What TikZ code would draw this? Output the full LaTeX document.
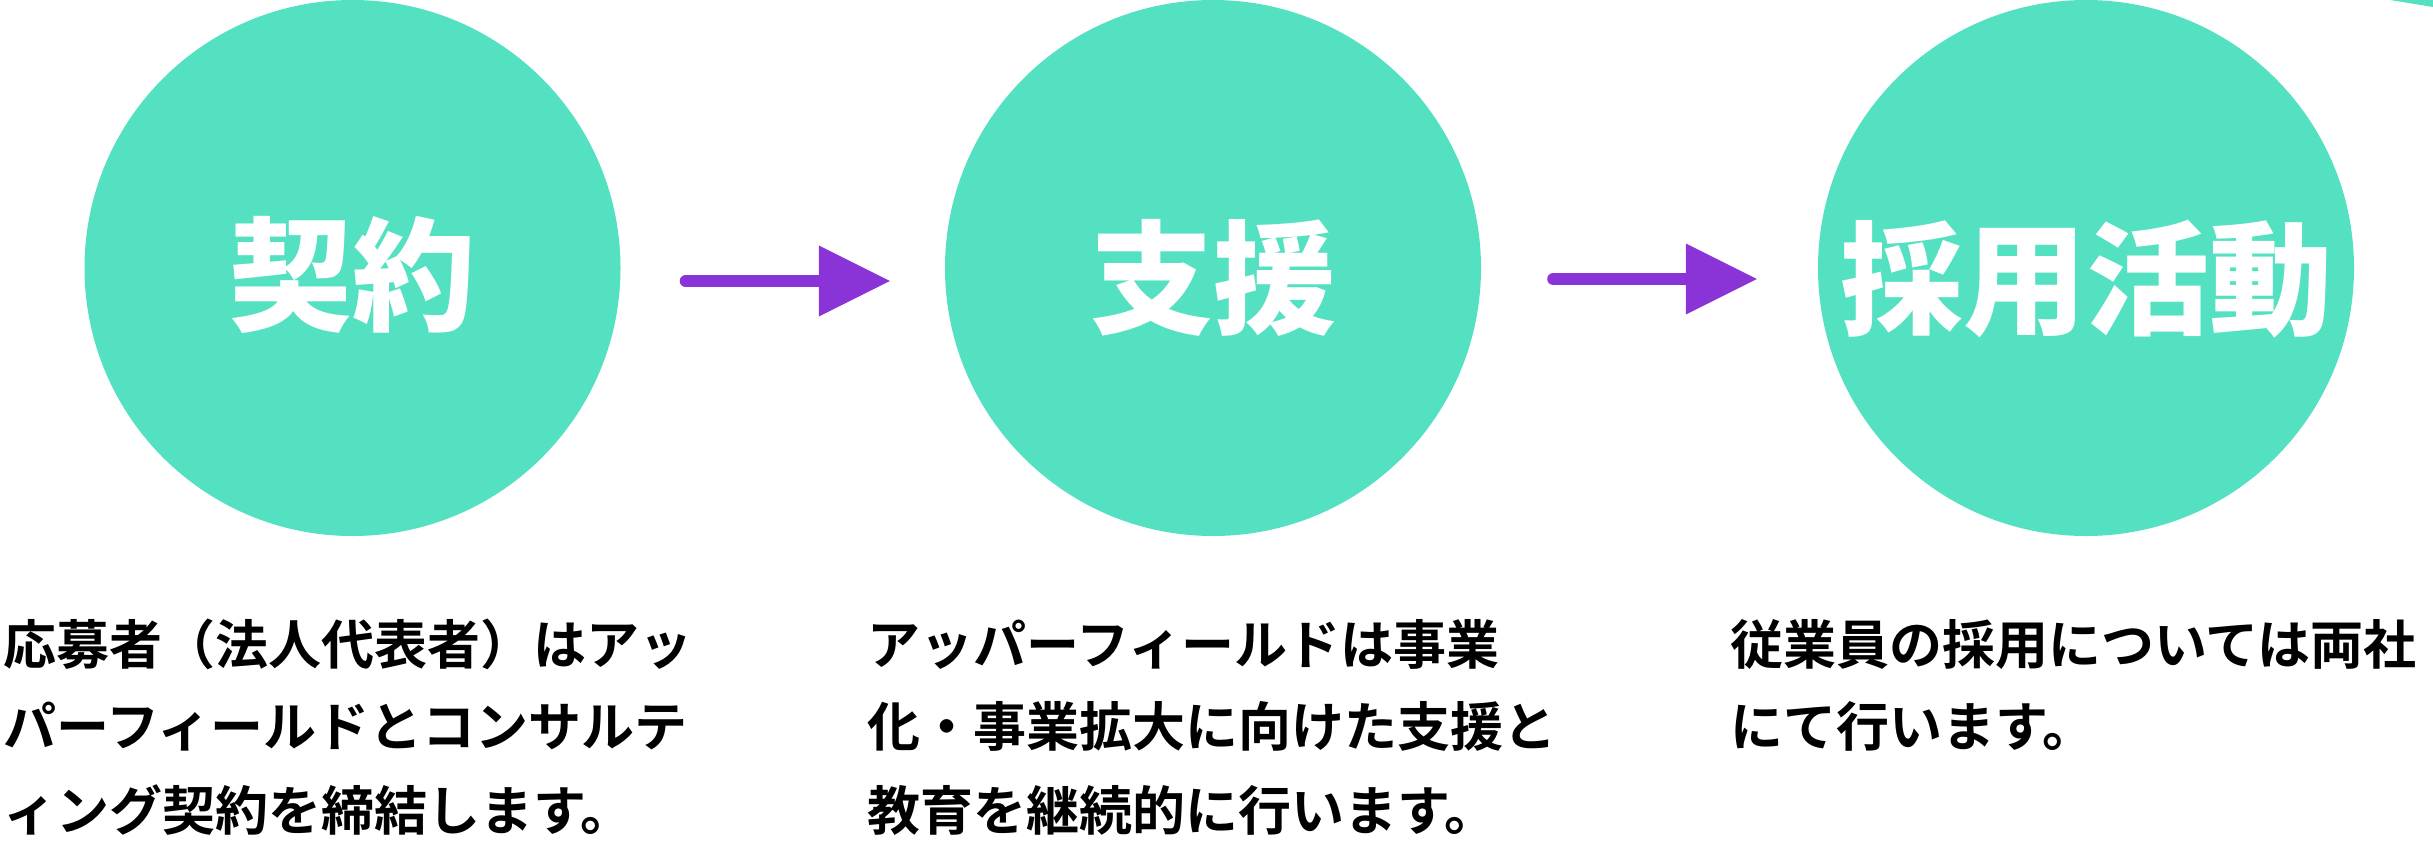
\documentclass[tikz,border=0pt]{standalone}
\usepackage{fontspec}
\newfontfamily\jpbody{Noto Sans CJK JP Bold}
\newfontfamily\jphead{Noto Sans CJK JP Black}
\usetikzlibrary{arrows.meta}
\definecolor{teal}{HTML}{54E1C1}
\definecolor{purp}{HTML}{8A33D6}
\tikzset{
  stage/.style={circle, fill=teal, draw=none, minimum size=536pt, inner sep=0pt},
  stagelbl/.style={text=white, inner sep=0pt, font=\jphead\fontsize{123}{123}\selectfont},
  bodyline/.style={anchor=base west, inner sep=0pt, text=black, font=\jpbody\fontsize{53}{53}\selectfont},
  flow/.style={draw=purp, line width=12pt, line cap=round,
    -{Triangle[length=71pt, width=71pt, line width=0pt]}},
}
\begin{document}
\begin{tikzpicture}[x=1pt, y=1pt]
\useasboundingbox (0,0) rectangle (2433,-855);
% partial shape at top right
\fill[teal] (2390,0) -- (2433,0) -- (2433,-7) -- cycle;
% circles
\node[stage] (c1) at (352.5,-268) {};
\node[stage] (c2) at (1213,-268) {};
\node[stage] (c3) at (2086,-268) {};
\node[stagelbl] (l1) at ([yshift=-7pt]c1.center) {契約};
\node[stagelbl] (l2) at ([yshift=-10pt]c2.center) {支援};
\node[stagelbl] (l3) at ([yshift=-11pt]c3.center) {採用活動};
% arrows
\draw[flow, shorten <=65pt, shorten >=55pt] ([yshift=-13pt]c1.east) -- ([yshift=-13pt]c2.west);
\draw[flow, shorten <=72pt, shorten >=61pt] ([yshift=-11pt]c2.east) -- ([yshift=-11pt]c3.west);
% texts
\node[bodyline] (t11) at (3,-664) {応募者（法人代表者）はアッ};
\node[bodyline] (t12) at (3,-746) {パーフィールドとコンサルテ};
\node[bodyline] (t13) at (3,-830) {ィング契約を締結します。};
\node[bodyline] (t21) at (867,-664) {アッパーフィールドは事業};
\node[bodyline] (t22) at (867,-746) {化・事業拡大に向けた支援と};
\node[bodyline] (t23) at (867,-830) {教育を継続的に行います。};
\node[bodyline] (t31) at (1730,-664) {従業員の採用については両社};
\node[bodyline] (t32) at (1730,-746) {にて行います。};
\end{tikzpicture}
\end{document}
